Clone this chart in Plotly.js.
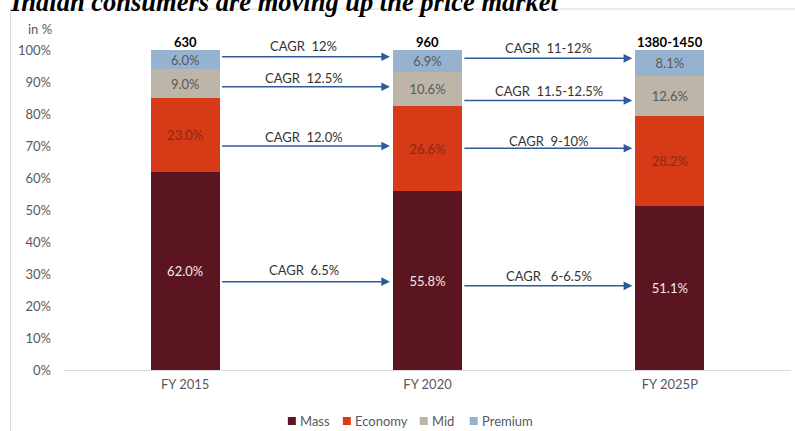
<!DOCTYPE html>
<html>
<head>
<meta charset="utf-8">
<script src="https://cdn.plot.ly/plotly-3.0.1.min.js"></script>
<style>html,body{margin:0;padding:0;background:#fff;}#chart{width:795px;height:431px;}</style>
</head>
<body>
<div id="chart"></div>
<script>
// ---- data ----
const categories = ["FY 2015", "FY 2020", "FY 2025P"];
const mass     = [62.0, 55.8, 51.1];
const economy  = [23.0, 26.6, 28.2];
const mid      = [9.0, 10.6, 12.6];
const premium  = [6.0, 6.9, 8.1];
const totals   = ["630", "960", "1380-1450"];
// CAGR labels, order: premium, mid, economy, mass
const cagr1520 = ["CAGR  12%", "CAGR  12.5%", "CAGR  12.0%", "CAGR  6.5%"];
const cagr2025 = ["CAGR  11-12%", "CAGR  11.5-12.5%", "CAGR  9-10%", "CAGR   6-6.5%"];

// ---- styling ----
const FONT = "Lato, 'Liberation Sans', sans-serif";
const series = [
  {name: "Mass", y: mass, color: "#5B1520", tc: "#F2E8E8"},
  {name: "Economy", y: economy, color: "#D63A16", tc: "#8A2A14"},
  {name: "Mid", y: mid, color: "#BDB5A8", tc: "#595959"},
  {name: "Premium", y: premium, color: "#95B3D0", tc: "#595959"}
];
const traces = series.map(s => ({
  type: "bar", name: s.name, x: categories, y: s.y,
  width: 0.285,
  marker: {color: s.color},
  text: s.y.map(v => v.toFixed(1) + "%"),
  textposition: "inside", insidetextanchor: "middle", textangle: 0,
  constraintext: "none",
  textfont: {family: FONT, size: 13, color: s.tc},
  hoverinfo: "skip", showlegend: false
}));

// plot geometry helpers (plot area: x 64..791.5 px, y 50..370 px)
const L = 64, W = 727.5, T = 50, H = 320;
const px = p => (p - L) / W;
const py = p => (370 - p) / H;
const cx = c => (c + 0.5) / categories.length; // category units -> paper
const vy = v => v / 100;                       // value -> paper

const annotations = [];
const shapes = [
  {type: "line", xref: "paper", yref: "paper", x0: px(10), x1: px(800), y0: py(9), y1: py(9), line: {color: "#D9D9D9", width: 1}},
  {type: "line", xref: "paper", yref: "paper", x0: px(10.5), x1: px(10.5), y0: py(9), y1: py(440), line: {color: "#D9D9D9", width: 1}}
];
// title (cut at top)
annotations.push({xref: "paper", yref: "paper", x: px(8), y: py(19), xanchor: "left", yanchor: "bottom",
  text: "<b><i>Indian consumers are moving up the price market</i></b>", showarrow: false,
  font: {family: "'Liberation Serif', serif", size: 26.5, color: "#000"}});
annotations.push({xref: "paper", yref: "paper", x: px(40), y: py(29), xanchor: "center", yanchor: "middle",
  text: "in %", showarrow: false, font: {family: FONT, size: 13, color: "#595959"}});
// totals
totals.forEach((t, i) => annotations.push({x: cx(i), y: vy(102.5), xref: "paper", yref: "paper", text: "<b>" + t + "</b>",
  showarrow: false, xanchor: "center", yanchor: "middle", font: {family: FONT, size: 13, color: "#000"}}));
// arrows and labels
const arrowY1 = [97.9, 88.5, 70.0, 27.6], labelY1 = [101.2, 91.4, 72.9, 31.3];
const arrowY2 = [97.4, 84.2, 69.3, 26.3], labelY2 = [100.6, 87.3, 71.5, 29.4];
const ARC = "#2E5C9A";
function addArrows(startIdx, labels, ay, ly, lx) {
  labels.forEach((lab, k) => {
    annotations.push({x: startIdx + 0.845, y: ay[k], ax: startIdx + 0.146, ay: ay[k], axref: "x", ayref: "y",
      xref: "x", yref: "y", text: "", showarrow: true, arrowhead: 2, arrowsize: 1.15, arrowwidth: 1.5,
      arrowcolor: ARC, standoff: 0, startstandoff: 0});
    annotations.push({x: cx(startIdx + lx), y: vy(ly[k]), xref: "paper", yref: "paper", text: lab, showarrow: false,
      xanchor: "center", yanchor: "middle", font: {family: FONT, size: 13, color: "#333"}});
  });
}
addArrows(0, cagr1520, arrowY1, labelY1, 0.49);
addArrows(1, cagr2025, arrowY2, labelY2, 0.50);

// manual legend (compact, like the reference)
const legendX = [288, 343, 420, 470];
series.forEach((s, i) => {
  shapes.push({type: "rect", xref: "paper", yref: "paper", x0: px(legendX[i]), x1: px(legendX[i] + 8),
    y0: py(425), y1: py(417), fillcolor: s.color, line: {width: 0}});
  annotations.push({xref: "paper", yref: "paper", x: px(legendX[i] + 10), y: py(421), xanchor: "left", yanchor: "middle",
    text: s.name, showarrow: false, font: {family: FONT, size: 13, color: "#595959"}});
});

const layout = {
  width: 795, height: 431,
  margin: {l: L, r: 795 - L - W, t: T, b: 431 - T - H, pad: 0},
  paper_bgcolor: "#fff", plot_bgcolor: "#fff",
  barmode: "stack",
  showlegend: false,
  xaxis: {range: [-0.5, 2.5], showgrid: false, zeroline: false, showline: true, linecolor: "#D9D9D9", linewidth: 1,
    ticks: "", ticklabelstandoff: 2, tickfont: {family: FONT, size: 13, color: "#595959"}, fixedrange: true},
  yaxis: {range: [0, 100], dtick: 10, ticksuffix: "%", showgrid: false, zeroline: false, showline: false,
    ticks: "", ticklabelstandoff: 12, tickfont: {family: FONT, size: 13, color: "#595959"}, fixedrange: true},
  annotations: annotations,
  shapes: shapes,
  hovermode: false
};
Plotly.newPlot("chart", traces, layout, {displayModeBar: false, staticPlot: true});
</script>
</body>
</html>
